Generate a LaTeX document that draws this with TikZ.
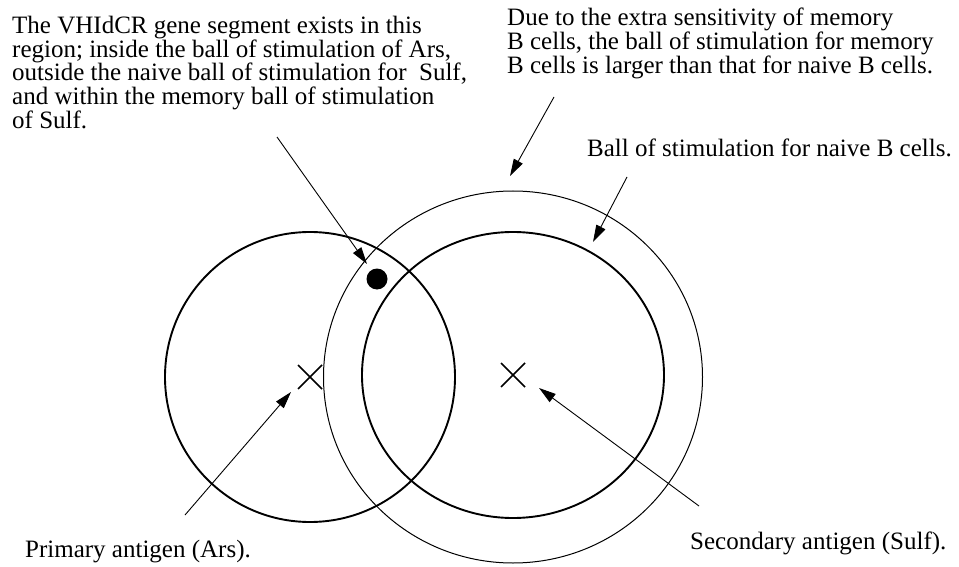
\documentclass[tikz,border=0pt]{standalone}
\usepackage{fontspec}
\setmainfont{Liberation Serif}
\usetikzlibrary{arrows.meta,calc}
\begin{document}
\begin{tikzpicture}[x=1pt,y=-1pt,
  lbl/.style={inner sep=0pt, anchor=base west, align=left, font=\fontsize{25}{23.75}\selectfont},
  ptr/.style={line width=0.9pt, -{Triangle[length=17pt,width=10pt]}},
  ballthick/.style={line width=1.9pt},
  ballthin/.style={line width=1pt},
  xmark/.style={line width=1.6pt}]
\useasboundingbox (0,0) rectangle (959,567);
% centres
\coordinate (ars) at (310,377);
\coordinate (sulf) at (513,375);
\coordinate (mem) at (513,377);
% balls
\draw[ballthick] (ars) circle [radius=145pt];
\draw[ballthick] (sulf) ellipse [x radius=151pt, y radius=143pt];
\draw[ballthin] (mem) ellipse [x radius=189.5pt, y radius=186pt];
% crosses
\draw[xmark] ($(ars)+(-12,-12)$) -- ($(ars)+(12,12)$) ($(ars)+(-12,12)$) -- ($(ars)+(12,-12)$);
\draw[xmark] ($(sulf)+(-12,-12)$) -- ($(sulf)+(12,12)$) ($(sulf)+(-12,12)$) -- ($(sulf)+(12,-12)$);
% dot
\coordinate (dot) at (377,279);
\fill (dot) circle [radius=10.5pt];
% texts (base anchor = baseline of last line)
\node[lbl] (vtext) at (12,128.3) {The VHIdCR gene segment exists in this\\region; inside the ball of stimulation of Ars,\\outside the naive ball of stimulation for~ Sulf,\\and within the memory ball of stimulation\\of Sulf.};
\node[lbl] (mtext) at (507,73.5) {Due to the extra sensitivity of memory\\B cells, the ball of stimulation for memory\\B cells is larger than that for naive B cells.};
\node[lbl] (ntext) at (587,157) {Ball of stimulation for naive B cells.};
\node[lbl] (ptext) at (25,557) {Primary antigen (Ars).};
\node[lbl] (stext) at (690,549) {Secondary antigen (Sulf).};
% arrow ends
\coordinate (v0) at (277,137);
\coordinate (v1) at (367,264);
\coordinate (m0) at (554,97);
\coordinate (m1) at (510,176);
\coordinate (n0) at (627,177);
\coordinate (n1) at (593,242);
\coordinate (p0) at (185,515);
\coordinate (p1) at (291,392);
\coordinate (s0) at (699,506);
\coordinate (s1) at (539,388);
\draw[ptr] (v0) -- (v1);
\draw[ptr] (m0) -- (m1);
\draw[ptr] (n0) -- (n1);
\draw[ptr] (p0) -- (p1);
\draw[ptr] (s0) -- (s1);
\end{tikzpicture}
\end{document}
